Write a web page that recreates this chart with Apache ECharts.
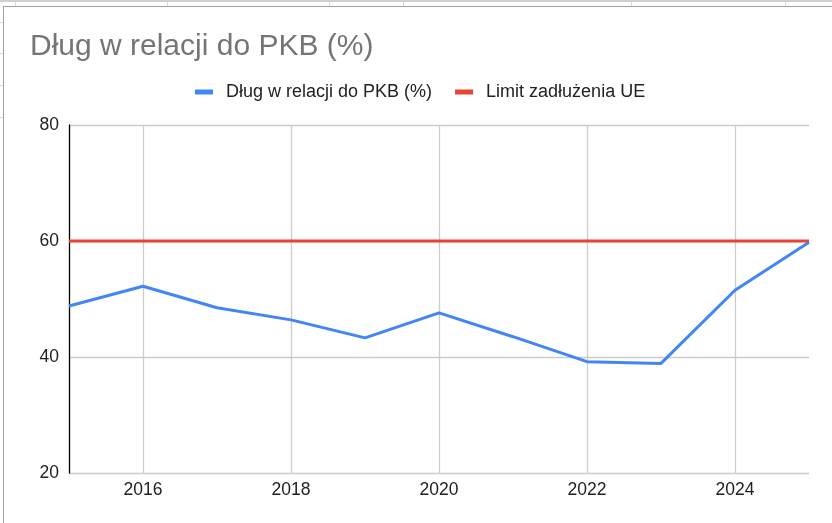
<!DOCTYPE html>
<html>
<head>
<meta charset="utf-8">
<title>Dług w relacji do PKB (%)</title>
<script src="https://cdn.jsdelivr.net/npm/echarts@6/dist/echarts.min.js"></script>
<style>
	html, body { margin: 0; padding: 0; background: #fff; overflow: hidden; }
	.top { position: absolute; left: 0; top: 0; width: 832px; height: 2px; background: #d0d0d0; }
	.vstub { position: absolute; top: 2px; width: 1px; height: 4px; background: #dadada; }
	.hstub { position: absolute; left: 0; width: 3px; height: 1px; background: #dadada; }
	#card {
		position: absolute; left: 3px; top: 6px; width: 840px; height: 530px;
		border-left: 1px solid #a0a0a0; border-top: 1px solid #a0a0a0; box-sizing: border-box;
	}
	#chart { position: absolute; left: 0; top: 0; width: 832px; height: 523px; }
</style>
</head>
<body>
<div class="top"></div>
<div class="vstub" style="left:15px"></div>
<div class="vstub" style="left:167px"></div>
<div class="vstub" style="left:329px"></div>
<div class="vstub" style="left:403px"></div>
<div class="vstub" style="left:631px"></div>
<div class="vstub" style="left:785px"></div>
<div class="hstub" style="top:22px"></div>
<div class="hstub" style="top:53px"></div>
<div class="hstub" style="top:85px"></div>
<div class="hstub" style="top:117px"></div>
<div id="card"></div>
<div id="chart"></div>
<script>
const years = ['2015', '2016', '2017', '2018', '2019', '2020', '2021', '2022', '2023', '2024', '2025']
const debtRatio = [48.8, 52.2, 48.5, 46.4, 43.3, 47.6, 43.5, 39.2, 38.9, 51.5, 59.8]
const euLimit = [60, 60, 60, 60, 60, 60, 60, 60, 60, 60, 60]
const seriesNames = ['Dług w relacji do PKB (%)', 'Limit zadłużenia UE']

const font = '"Liberation Sans", Arial, sans-serif'
const evenYear = (index) => index % 2 === 1

const chart = echarts.init(document.getElementById('chart'))
chart.setOption({
	animation: false,
	backgroundColor: 'transparent',
	title: {
		text: 'Dług w relacji do PKB (%)',
		left: 25,
		top: 27,
		textStyle: { fontFamily: font, fontSize: 30, fontWeight: 'normal', color: '#757575' }
	},
	legend: {
		left: 190,
		top: 78,
		icon: 'rect',
		itemWidth: 18,
		itemHeight: 5,
		itemGap: 23,
		textStyle: { fontFamily: font, fontSize: 18, color: '#222', padding: [0, 0, 0, 8] },
		data: seriesNames
	},
	grid: { left: 69, right: 23, top: 125, bottom: 50, containLabel: false },
	xAxis: {
		type: 'category',
		data: years,
		boundaryGap: false,
		axisLine: { show: false },
		axisTick: { show: false },
		axisLabel: { interval: evenYear, margin: 8, fontFamily: font, fontSize: 17.5, color: '#222' },
		splitLine: { show: true, interval: evenYear, lineStyle: { color: '#cccccc', width: 1.3 } }
	},
	yAxis: {
		type: 'value',
		min: 20,
		max: 80,
		interval: 20,
		axisLine: { show: true, lineStyle: { color: '#000', width: 1.3 } },
		axisTick: { show: false },
		axisLabel: { margin: 10, fontFamily: font, fontSize: 17.5, color: '#222' },
		splitLine: { lineStyle: { color: '#cccccc', width: 1.3 } }
	},
	series: [
		{
			name: seriesNames[0],
			type: 'line',
			data: debtRatio,
			symbol: 'none',
			color: '#4285f4',
			lineStyle: { width: 3, color: '#4285f4' }
		},
		{
			name: seriesNames[1],
			type: 'line',
			data: euLimit,
			symbol: 'none',
			color: '#ea4335',
			lineStyle: { width: 3, color: '#ea4335' }
		}
	]
})
</script>
</body>
</html>
